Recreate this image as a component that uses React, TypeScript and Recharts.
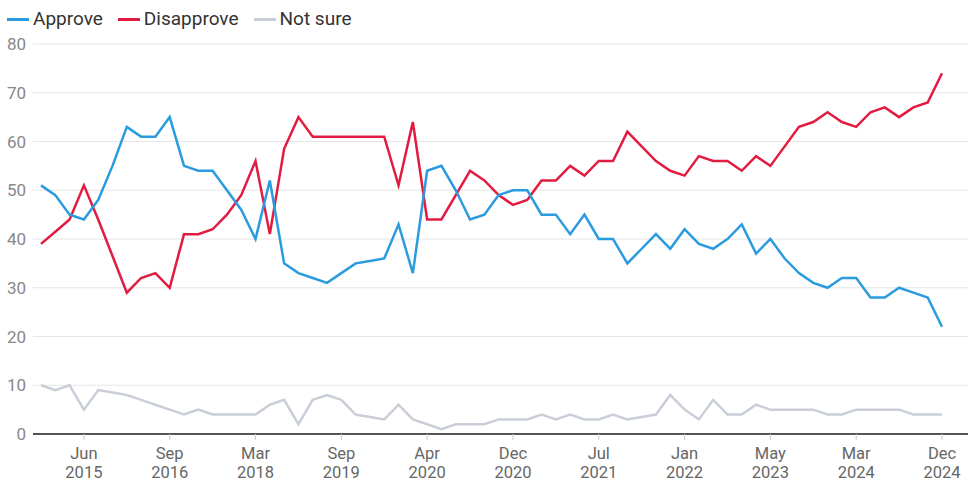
import {CartesianGrid, Line, LineChart, XAxis, YAxis} from 'recharts'

// one reading per survey wave, in order (64 waves, Jun 2015 is wave 3)
const approve = [
	51, 49, 45, 44, 48, 55, 63, 61, 61, 65, 55, 54, 54, 50, 46, 40, 52, 35, 33, 32, 31, 33, 35, 35.5, 36, 43, 33, 54, 55, 50,
	44, 45, 49, 50, 50, 45, 45, 41, 45, 40, 40, 35, 38, 41, 38, 42, 39, 38, 40, 43, 37, 40, 36, 33, 31, 30, 32, 32, 28, 28,
	30, 29, 28, 22,
]
const disapprove = [
	39, 41.5, 44, 51, 44, 36.5, 29, 32, 33, 30, 41, 41, 42, 45, 49, 56, 41, 58.5, 65, 61, 61, 61, 61, 61, 61, 51, 64, 44, 44,
	49, 54, 52, 49, 47, 48, 52, 52, 55, 53, 56, 56, 62, 59, 56, 54, 53, 57, 56, 56, 54, 57, 55, 59, 63, 64, 66, 64, 63, 66,
	67, 65, 67, 68, 74,
]
const notSure = [
	10, 9, 10, 5, 9, 8.5, 8, 7, 6, 5, 4, 5, 4, 4, 4, 4, 6, 7, 2, 7, 8, 7, 4, 3.5, 3, 6, 3, 2, 1, 2, 2, 2, 3, 3, 3, 4, 3, 4, 3,
	3, 4, 3, 3.5, 4, 8, 5, 3, 7, 4, 4, 6, 5, 5, 5, 5, 4, 4, 5, 5, 5, 5, 4, 4, 4,
]

const tickWave = [3, 9, 15, 21, 27, 33, 39, 45, 51, 57, 63]
const tickMonth = ['Jun', 'Sep', 'Mar', 'Sep', 'Apr', 'Dec', 'Jul', 'Jan', 'May', 'Mar', 'Dec']
const tickYear = ['2015', '2016', '2018', '2019', '2020', '2020', '2021', '2022', '2023', '2024', '2024']
const yTicks = [0, 10, 20, 30, 40, 50, 60, 70, 80]

const BLUE = '#2b9be0'
const RED = '#e21c40'
const GREY = '#c9ced8'
const FONT = 'Roboto, "Liberation Sans", sans-serif'

const data = approve.map((a, i) => ({wave: i, approve: a, disapprove: disapprove[i], notSure: notSure[i]}))

const legendItems = [
	{label: 'Approve', color: BLUE},
	{label: 'Disapprove', color: RED},
	{label: 'Not sure', color: GREY},
]

function MonthYearTick({x, y, payload}: any) {
	const k = tickWave.indexOf(payload.value)
	if (k < 0) return null
	return (
		<g>
			<text x={x} y={y + 17} textAnchor='middle' fill='#666' fontSize={16.5} fontFamily={FONT}>
				{tickMonth[k]}
			</text>
			<text x={x} y={y + 36} textAnchor='middle' fill='#666' fontSize={16.5} fontFamily={FONT}>
				{tickYear[k]}
			</text>
		</g>
	)
}

export default function App() {
	return (
		<div style={{position: 'absolute', left: 0, top: 0, width: 969, height: 483, background: '#fff'}}>
			<div
				style={{
					position: 'absolute',
					left: 7,
					top: 7,
					display: 'flex',
					alignItems: 'center',
					fontFamily: FONT,
					fontSize: 19,
					color: '#333',
					lineHeight: '24px',
				}}
			>
				{legendItems.map((it) => (
					<div key={it.label} style={{display: 'flex', alignItems: 'center', marginRight: 15}}>
						<span style={{display: 'inline-block', width: 22, height: 3, background: it.color, marginRight: 4}} />
						<span>{it.label}</span>
					</div>
				))}
			</div>
			<LineChart width={969} height={483} data={data} margin={{top: 44, right: 1, bottom: 0, left: 0}}>
				<CartesianGrid vertical={false} stroke='#e6e6e6' />
				<XAxis
					dataKey='wave'
					type='number'
					domain={[0, 63]}
					ticks={tickWave}
					interval={0}
					padding={{left: 8, right: 26}}
					height={49}
					axisLine={{stroke: '#555', strokeWidth: 2}}
					tickLine={{stroke: '#ccc'}}
					tickSize={6}
					tick={<MonthYearTick />}
				/>
				<YAxis
					domain={[0, 80]}
					ticks={yTicks}
					width={33}
					axisLine={false}
					tickLine={false}
					tickSize={0}
					tickMargin={7}
					tick={{fill: '#888', fontSize: 17, fontFamily: FONT}}
				/>
				<Line dataKey='notSure' stroke={GREY} strokeWidth={2.5} dot={false} isAnimationActive={false} />
				<Line dataKey='disapprove' stroke={RED} strokeWidth={2.5} dot={false} isAnimationActive={false} />
				<Line dataKey='approve' stroke={BLUE} strokeWidth={2.5} dot={false} isAnimationActive={false} />
			</LineChart>
		</div>
	)
}
